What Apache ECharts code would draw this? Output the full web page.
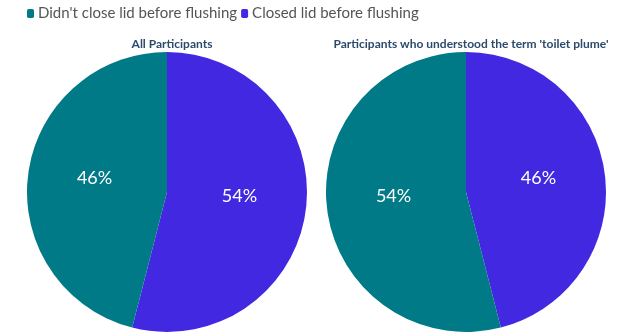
<!DOCTYPE html>
<html>
<head>
<meta charset="utf-8">
<script src="https://cdn.jsdelivr.net/npm/echarts@6/dist/echarts.min.js"></script>
<style>
  html, body { margin: 0; padding: 0; background: #fff; }
  #chart { width: 617px; height: 336px; }
</style>
</head>
<body>
<div id="chart"></div>
<script>
// slices listed clockwise from 12 o'clock
var categories = ["Closed lid before flushing", "Didn't close lid before flushing"]
var legendOrder = ["Didn't close lid before flushing", "Closed lid before flushing"]
var allParticipants = [54, 46]
var understoodPlume = [46, 54]
var panelTitles = ['All Participants', "Participants who understood the term 'toilet plume'"]
var sliceColors = {
  "Didn't close lid before flushing": '#017a87',
  'Closed lid before flushing': '#4228e0'
}

var makeData = function (values) {
  return categories.map(function (name, i) {
    return { name: name, value: values[i], itemStyle: { color: sliceColors[name] } }
  })
}

var makePie = function (values, cx) {
  return {
    type: 'pie',
    center: [cx, 192],
    radius: 140,
    startAngle: 90,
    clockwise: true,
    silent: true,
    data: makeData(values),
    label: {
      show: true,
      position: 'inside',
      formatter: '{p|{c}%}',
      rich: {
        // nudge the percentage up a little
        p: { color: '#ffffff', fontSize: 18, fontFamily: 'Lato', padding: [0, 0, 10, 0] }
      }
    },
    labelLine: { show: false }
  }
}

var Chart = echarts.init(document.getElementById('chart'))
var option = {
  animation: false,
  color: [sliceColors[legendOrder[0]], sliceColors[legendOrder[1]]],
  legend: {
    data: legendOrder,
    left: 22,
    top: 1,
    itemWidth: 7,
    itemHeight: 9,
    itemGap: 4,
    icon: 'roundRect',
    textStyle: { fontSize: 15, color: '#555', fontFamily: 'Lato', padding: [0, 0, 0, -1] }
  },
  title: [
    {
      text: panelTitles[0],
      left: 167,
      top: 33,
      textAlign: 'center',
      textStyle: { fontSize: 12, fontWeight: 'bold', color: '#2c4a6b', fontFamily: 'Lato' }
    },
    {
      text: panelTitles[1],
      left: 466,
      top: 33,
      textAlign: 'center',
      textStyle: { fontSize: 12, fontWeight: 'bold', color: '#2c4a6b', fontFamily: 'Lato' }
    }
  ],
  series: [makePie(allParticipants, 167), makePie(understoodPlume, 466)]
}
Chart.setOption(option)
</script>
</body>
</html>
